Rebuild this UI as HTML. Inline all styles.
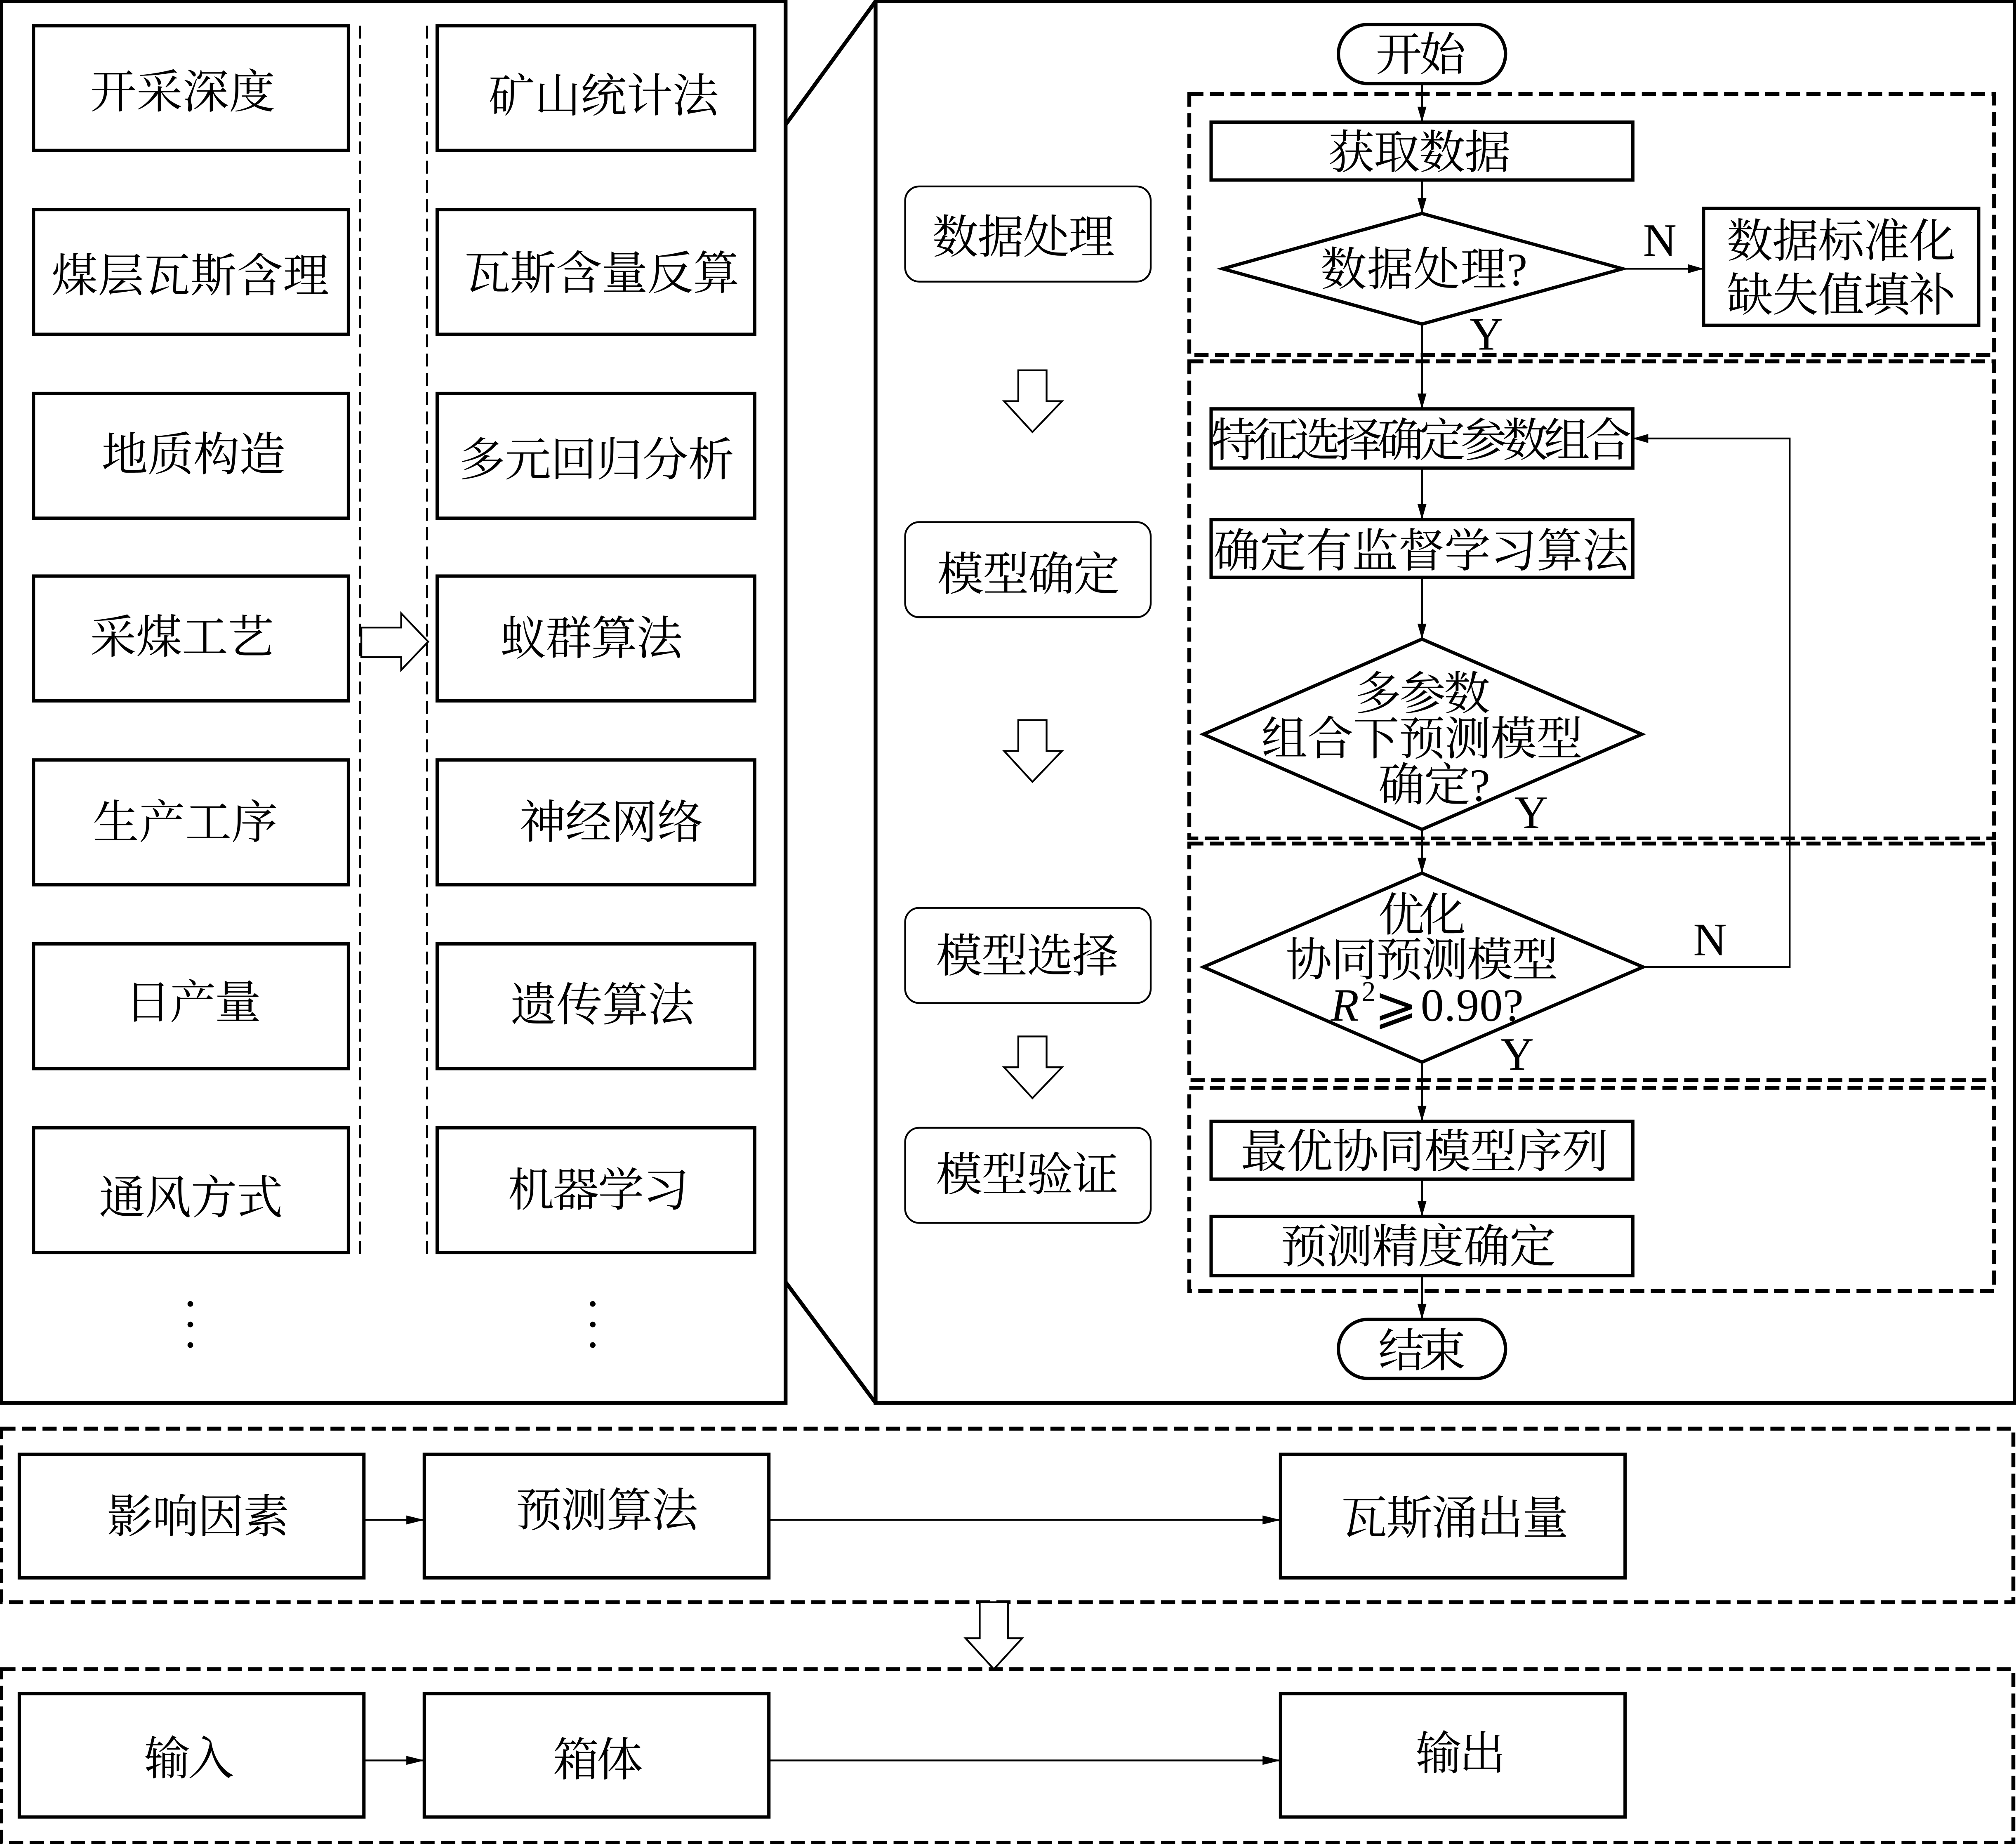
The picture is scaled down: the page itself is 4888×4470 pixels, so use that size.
<!DOCTYPE html>
<html><head><meta charset="utf-8"><style>
html,body{margin:0;padding:0;background:#fff}
svg{display:block}
text{font-family:"Liberation Serif","Noto Serif CJK SC",serif;font-size:36px;fill:#000;dominant-baseline:central;transform:translate(-1px,2px)}
.b{fill:#fff;stroke:#000;stroke-width:2.6}
.o{fill:none;stroke:#000;stroke-width:3}
.d{fill:none;stroke:#000;stroke-width:3;stroke-dasharray:11 5}
.t{fill:none;stroke:#000;stroke-width:1.3;stroke-dasharray:10 5}
.c{fill:none;stroke:#000;stroke-width:1.4}
.a{fill:#000;stroke:none}
.h{fill:#fff;stroke:#000;stroke-width:1.4}
</style></head><body>
<svg xmlns="http://www.w3.org/2000/svg" width="4888" height="4470" viewBox="0 0 1568 1434">
<rect width="1568" height="1434" fill="#fff"/>
<!-- panels -->
<rect class="o" x="1" y="1" width="610" height="1090"/>
<rect class="o" x="681" y="1" width="886" height="1090"/>
<path class="o" stroke-width="2" d="M611 97L681 1M611 997L681 1091"/>
<!-- left columns -->
<path class="t" d="M280 20V975M332 20V975"/>
<rect class="b" x="26" y="20" width="245" height="97"/>
<rect class="b" x="26" y="163" width="245" height="97"/>
<rect class="b" x="26" y="306" width="245" height="97"/>
<rect class="b" x="26" y="448" width="245" height="97"/>
<rect class="b" x="26" y="591" width="245" height="97"/>
<rect class="b" x="26" y="734" width="245" height="97"/>
<rect class="b" x="26" y="877" width="245" height="97"/>
<rect class="b" x="340" y="20" width="247" height="97"/>
<rect class="b" x="340" y="163" width="247" height="97"/>
<rect class="b" x="340" y="306" width="247" height="97"/>
<rect class="b" x="340" y="448" width="247" height="97"/>
<rect class="b" x="340" y="591" width="247" height="97"/>
<rect class="b" x="340" y="734" width="247" height="97"/>
<rect class="b" x="340" y="877" width="247" height="97"/>
<polygon class="h" points="281,488 312,488 312,477 333,499 312,521 312,511 281,511"/>
<text x="71" y="70" textLength="144">开采深度</text>
<text x="41" y="213" textLength="216">煤层瓦斯含理</text>
<text x="80" y="352" textLength="143">地质构造</text>
<text x="71" y="494" textLength="143">采煤工艺</text>
<text x="73" y="638" textLength="144">生产工序</text>
<text x="98" y="778" textLength="106">日产量</text>
<text x="78" y="930" textLength="143">通风方式</text>
<text x="381" y="73" textLength="179">矿山统计法</text>
<text x="362" y="211" textLength="214">瓦斯含量反算</text>
<text x="358" y="356" textLength="214">多元回归分析</text>
<text x="390" y="495" textLength="142">蚁群算法</text>
<text x="405" y="638" textLength="143">神经网络</text>
<text x="398" y="780" textLength="143">遗传算法</text>
<text x="396" y="924" textLength="141">机器学习</text>
<g class="a"><circle cx="148" cy="1014" r="2.2"/><circle cx="148" cy="1030" r="2.2"/><circle cx="148" cy="1046" r="2.2"/><circle cx="461" cy="1014" r="2.2"/><circle cx="461" cy="1030" r="2.2"/><circle cx="461" cy="1046" r="2.2"/></g>
<!-- stage labels -->
<rect x="704" y="145" width="191" height="74" rx="11" fill="#fff" stroke="#000" stroke-width="1.4"/>
<rect x="704" y="406" width="191" height="74" rx="11" fill="#fff" stroke="#000" stroke-width="1.4"/>
<rect x="704" y="706" width="191" height="74" rx="11" fill="#fff" stroke="#000" stroke-width="1.4"/>
<rect x="704" y="877" width="191" height="74" rx="11" fill="#fff" stroke="#000" stroke-width="1.4"/>
<text x="726" y="183" textLength="142">数据处理</text>
<text x="730" y="445" textLength="142">模型确定</text>
<text x="729" y="742" textLength="142">模型选择</text>
<text x="729" y="912" textLength="142">模型验证</text>
<polygon class="h" points="792,288 814,288 814,312 826,312 803,336 781,312 792,312"/>
<polygon class="h" points="792,560 814,560 814,584 826,584 803,608 781,584 792,584"/>
<polygon class="h" points="792,806 814,806 814,830 826,830 803,854 781,830 792,830"/>
<!-- dashed groups -->
<rect class="d" x="925" y="73" width="626" height="203"/>
<rect class="d" x="925" y="281" width="626" height="371"/>
<rect class="d" x="925" y="656" width="626" height="184"/>
<rect class="d" x="925" y="846" width="626" height="158"/>
<!-- connectors -->
<path class="c" d="M1106 65V95M1106 140V166M1106 252V318M1106 364V404M1106 449V497M1106 645V679M1106 826V872M1106 917V946M1106 992V1026M1263 209H1325M1278 752H1392V341H1270"/>
<g class="a">
<polygon points="1106,95 1102.5,83 1109.5,83"/>
<polygon points="1106,166 1102.5,154 1109.5,154"/>
<polygon points="1106,318 1102.5,306 1109.5,306"/>
<polygon points="1106,404 1102.5,392 1109.5,392"/>
<polygon points="1106,497 1102.5,485 1109.5,485"/>
<polygon points="1106,679 1102.5,667 1109.5,667"/>
<polygon points="1106,872 1102.5,860 1109.5,860"/>
<polygon points="1106,946 1102.5,934 1109.5,934"/>
<polygon points="1106,1026 1102.5,1014 1109.5,1014"/>
<polygon points="1325,209 1313,205.5 1313,212.5"/>
<polygon points="1270,341 1282,337.5 1282,344.5"/>
</g>
<!-- flow nodes -->
<rect class="b" x="1041" y="19" width="130" height="46" rx="23"/>
<rect class="b" x="1041" y="1026" width="130" height="46" rx="23"/>
<rect class="b" x="942" y="95" width="328" height="45"/>
<rect class="b" x="1325" y="162" width="214" height="91"/>
<rect class="b" x="942" y="318" width="328" height="46"/>
<rect class="b" x="942" y="404" width="328" height="45"/>
<rect class="b" x="942" y="872" width="328" height="45"/>
<rect class="b" x="942" y="946" width="328" height="46"/>
<polygon class="b" points="951,209 1106,166 1262,209 1106,252"/>
<polygon class="b" points="936,571 1106,497 1277,571 1106,645"/>
<polygon class="b" points="936,752 1106,679 1278,752 1106,826"/>
<text x="1071" y="41" textLength="70">开始</text>
<text x="1073" y="1049" textLength="68">结束</text>
<text x="1034" y="117" textLength="142">获取数据</text>
<text x="1028" y="208" textLength="161">数据处理?</text>
<text x="1344" y="186" textLength="178">数据标准化</text>
<text x="1344" y="228" textLength="178">缺失值填补</text>
<text x="1279" y="185">N</text>
<text x="1144" y="258">Y</text>
<text x="943" y="341" textLength="327">特征选择确定参数组合</text>
<text x="945" y="427" textLength="323">确定有监督学习算法</text>
<text x="1055" y="538" textLength="105">多参数</text>
<text x="982" y="573" textLength="250">组合下预测模型</text>
<text x="1073" y="609" textLength="87">确定?</text>
<text x="1179" y="630">Y</text>
<text x="1073" y="710" textLength="68">优化</text>
<text x="1001" y="745" textLength="212">协同预测模型</text>
<text x="1036" y="780" font-style="italic">R</text>
<text x="1060" y="769" style="font-size:22px">2</text>
<text x="1070" y="780" style="font-family:'DejaVu Sans','Noto Sans CJK SC',sans-serif;font-size:40px">⩾</text>
<text x="1106" y="780" textLength="80">0.90?</text>
<text x="1318" y="729">N</text>
<text x="1168" y="818">Y</text>
<text x="966" y="894" textLength="286">最优协同模型序列</text>
<text x="997" y="968" textLength="214">预测精度确定</text>
<!-- bottom -->
<rect class="d" x="1" y="1111" width="1565" height="135"/>
<rect class="d" x="1" y="1298" width="1565" height="135"/>
<polygon class="h" points="762,1246 784,1246 784,1274 795,1274 773,1298 751,1274 762,1274"/>
<rect class="b" x="15" y="1131" width="268" height="96"/>
<rect class="b" x="330" y="1131" width="268" height="96"/>
<rect class="b" x="996" y="1131" width="268" height="96"/>
<rect class="b" x="15" y="1317" width="268" height="96"/>
<rect class="b" x="330" y="1317" width="268" height="96"/>
<rect class="b" x="996" y="1317" width="268" height="96"/>
<path class="c" d="M283 1182H330M598 1182H996M283 1369H330M598 1369H996"/>
<g class="a">
<polygon points="330,1182 316,1178.500 316,1185.500"/>
<polygon points="996,1182 982,1178.500 982,1185.500"/>
<polygon points="330,1369 316,1365.500 316,1372.500"/>
<polygon points="996,1369 982,1365.500 982,1372.500"/>
</g>
<text x="84" y="1178" textLength="142">影响因素</text>
<text x="402" y="1173" textLength="142">预测算法</text>
<text x="1044" y="1179" textLength="177">瓦斯涌出量</text>
<text x="113" y="1366" textLength="70">输入</text>
<text x="431" y="1367" textLength="70">箱体</text>
<text x="1102" y="1362" textLength="70">输出</text>
</svg>
</body></html>
